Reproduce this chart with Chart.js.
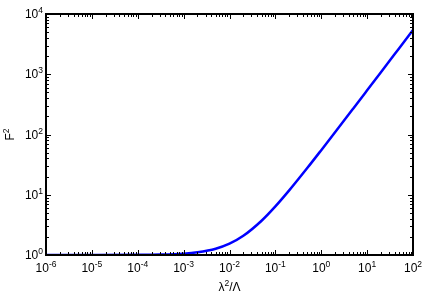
<!DOCTYPE html>
<html>
<head>
<meta charset="utf-8">
<script src="https://cdn.jsdelivr.net/npm/chart.js@4"></script>
<style>
  html, body { margin: 0; padding: 0; background: #fff; }
  #wrap { width: 437px; height: 307px; position: relative; }
</style>
</head>
<body>
<div id="wrap"><canvas id="fChart"></canvas></div>
<script>
// values (lambda^2/Lambda vs F^2)
var xValues = [1e-6, 1e-5, 1e-4, 3e-4, 1e-3, 2e-3, 5e-3, 1e-2, 2e-2, 5e-2, 0.1, 0.2, 0.5, 1, 2, 5, 10, 20, 50, 100];
var yValues = [1.0, 1.0005, 1.005, 1.016, 1.054, 1.11, 1.27, 1.54, 2.08, 3.7, 6.4, 11.8, 28, 55, 109, 271, 541, 1081, 2701, 5400];
var xTickExps = [-6, -5, -4, -3, -2, -1, 0, 1, 2];
var yTickExps = [0, 1, 2, 3, 4];

var FONT = '"Liberation Sans", Arial, Helvetica, sans-serif';
var BASE = '12px ' + FONT;
var SUP = '8.5px ' + FONT;

function drawPow(ctx, base, exp, x, y, align) {
    ctx.font = BASE;
    var wb = ctx.measureText(base).width;
    ctx.font = SUP;
    var we = ctx.measureText(exp).width;
    var total = wb + we;
    var x0 = align === 'center' ? x - total / 2 : (align === 'right' ? x - total : x);
    ctx.textAlign = 'left';
    ctx.textBaseline = 'alphabetic';
    ctx.font = BASE;
    ctx.fillText(base, x0, y);
    ctx.font = SUP;
    ctx.fillText(exp, x0 + wb, y - 5);
}

var framePlugin = {
    id: 'frame',
    afterDraw: function(chart) {
        var ctx = chart.ctx;
        var a = chart.chartArea;
        var xs = chart.scales.x, ys = chart.scales.y;
        ctx.save();
        ctx.strokeStyle = '#000';
        ctx.fillStyle = '#000';

        // tick marks, inward on all sides
        ctx.lineWidth = 1;
        ctx.beginPath();
        xTickExps.forEach(function(e, i) {
            var px = Math.round(xs.getPixelForValue(Math.pow(10, e))) + 0.5;
            ctx.moveTo(px, a.bottom); ctx.lineTo(px, a.bottom - 5);
            ctx.moveTo(px, a.top); ctx.lineTo(px, a.top + 5);
            if (i < xTickExps.length - 1) {
                for (var m = 2; m < 10; m++) {
                    var pm = Math.round(xs.getPixelForValue(m * Math.pow(10, e))) + 0.5;
                    ctx.moveTo(pm, a.bottom); ctx.lineTo(pm, a.bottom - 3);
                    ctx.moveTo(pm, a.top); ctx.lineTo(pm, a.top + 3);
                }
            }
        });
        yTickExps.forEach(function(e, i) {
            var py = Math.round(ys.getPixelForValue(Math.pow(10, e))) + 0.5;
            ctx.moveTo(a.left, py); ctx.lineTo(a.left + 5, py);
            ctx.moveTo(a.right, py); ctx.lineTo(a.right - 5, py);
            if (i < yTickExps.length - 1) {
                for (var m = 2; m < 10; m++) {
                    var pm = Math.round(ys.getPixelForValue(m * Math.pow(10, e))) + 0.5;
                    ctx.moveTo(a.left, pm); ctx.lineTo(a.left + 3, pm);
                    ctx.moveTo(a.right, pm); ctx.lineTo(a.right - 3, pm);
                }
            }
        });
        ctx.stroke();

        // frame
        ctx.lineWidth = 2;
        ctx.strokeRect(a.left, a.top, a.right - a.left, a.bottom - a.top);

        // tick labels
        xTickExps.forEach(function(e) {
            drawPow(ctx, '10', String(e), xs.getPixelForValue(Math.pow(10, e)), a.bottom + 17, 'center');
        });
        yTickExps.forEach(function(e) {
            drawPow(ctx, '10', String(e), a.left - 3, ys.getPixelForValue(Math.pow(10, e)) + 4, 'right');
        });

        // axis titles
        var cx = (a.left + a.right) / 2;
        ctx.font = BASE;
        var wl = ctx.measureText('\u03bb').width;
        var ws = ctx.measureText('/\u039b').width;
        ctx.font = SUP;
        var w2 = ctx.measureText('2').width;
        var x0 = cx - (wl + w2 + ws) / 2;
        ctx.textAlign = 'left';
        ctx.font = BASE;
        ctx.fillText('\u03bb', x0, a.bottom + 36);
        ctx.fillText('/\u039b', x0 + wl + w2, a.bottom + 36);
        ctx.font = SUP;
        ctx.fillText('2', x0 + wl, a.bottom + 31);

        ctx.translate(14, (a.top + a.bottom) / 2);
        ctx.rotate(-Math.PI / 2);
        ctx.font = BASE;
        var wf = ctx.measureText('F').width;
        ctx.fillText('F', -(wf + w2) / 2, 0);
        ctx.font = SUP;
        ctx.fillText('2', -(wf + w2) / 2 + wf, -5);
        ctx.restore();
    }
};

var points = xValues.map(function(x, i) { return { x: x, y: yValues[i] }; });

var fCtx = document.getElementById('fChart').getContext('2d');
var fChart = new Chart(fCtx, {
    type: 'line',
    data: {
        datasets: [{
            data: points,
            borderColor: '#0000ff',
            borderWidth: 2.5,
            pointRadius: 0,
            fill: false,
            cubicInterpolationMode: 'monotone'
        }]
    },
    options: {
        responsive: true,
        maintainAspectRatio: false,
        animation: false,
        layout: { padding: { left: 46, right: 24, top: 14, bottom: 52 } },
        plugins: { legend: { display: false }, tooltip: { enabled: false } },
        scales: {
            x: {
                type: 'logarithmic', min: 1e-6, max: 100,
                grid: { display: false, drawTicks: false },
                border: { display: false },
                ticks: { display: false }
            },
            y: {
                type: 'logarithmic', min: 1, max: 10000,
                grid: { display: false, drawTicks: false },
                border: { display: false },
                ticks: { display: false }
            }
        }
    },
    plugins: [framePlugin]
});
</script>
</body>
</html>
